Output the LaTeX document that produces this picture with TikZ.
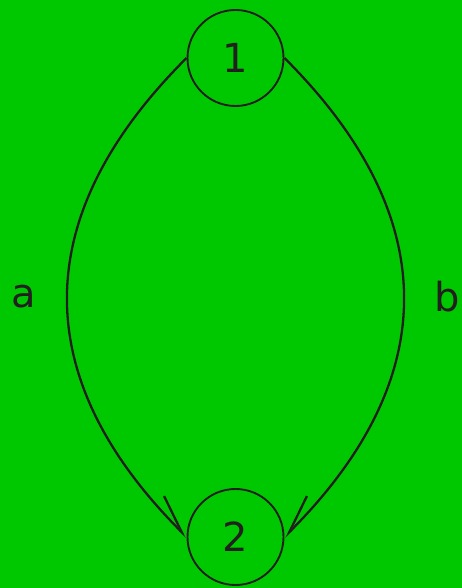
\documentclass[tikz,border=0pt]{standalone}
\usepackage{fontspec}
\setmainfont{DejaVu Sans}
\usetikzlibrary{arrows.meta}
\definecolor{bggreen}{RGB}{0,200,0}
\definecolor{ink}{RGB}{35,31,32}
\tikzset{
  state/.style={circle, draw=ink, line width=1.9pt, minimum size=96pt, inner sep=0pt, text=ink, font=\fontsize{40}{40}\selectfont},
  edge/.style={draw=ink, line width=2.3pt},
  lbl/.style={text=ink, font=\fontsize{40}{40}\selectfont, inner sep=0pt},
}
\begin{document}
\begin{tikzpicture}[x=1pt,y=1pt]
\fill[bggreen] (0,0) rectangle (462,588);
\useasboundingbox (0,0) rectangle (462,588);
\node[state] (n1) at (235.5,530) {1};
\node[state] (n2) at (235.5,51) {2};
\node[lbl] (la) at (24,291) {a};
\node[lbl] (lb) at (447,291) {b};
\draw[edge, -{Straight Barb[harpoon, length=38pt, width=26pt, line width=2.3pt]}]
  (n1.west) .. controls (28,372) and (28,210) .. (n2.west);
\draw[edge, -{Straight Barb[harpoon, swap, length=38pt, width=26pt, line width=2.3pt]}]
  (n1.east) .. controls (443,372) and (443,210) .. (n2.east);
\end{tikzpicture}
\end{document}
